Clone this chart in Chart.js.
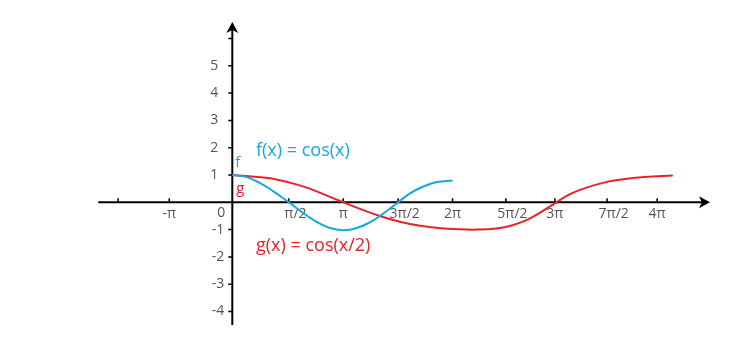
<!doctype html>
<html lang="en">
  <head>
    <meta charset="utf-8">
    <title>cos(x) and cos(x/2)</title>
    <style>
      * {
        margin: 0;
        padding: 0;
      }
      body {
        background: #fff;
      }
      .chartBox {
        width: 750px;
        height: 350px;
      }
    </style>
  </head>
  <body>
    <div class="chartBox">
      <canvas id="myChart"></canvas>
    </div>
    <script src="https://cdn.jsdelivr.net/npm/chart.js/dist/chart.umd.min.js"></script>
    <script>
    const fX = [0, 0.25, 0.5, 0.75, 1.05, 1.3, 1.55, 1.8, 2.06, 2.3, 2.55, 2.8, 3.08, 3.3, 3.55, 3.8, 4.09];
    const fY = [1, 0.93, 0.72, 0.42, 0, -0.37, -0.7, -0.93, -1.02, -0.95, -0.74, -0.42, 0, 0.33, 0.58, 0.74, 0.8];

    const gX = [0, 0.66, 1.05, 1.41, 1.7, 2.06, 2.37, 2.74, 3.11, 3.49, 3.86, 4.2, 4.55, 4.9, 5.2, 5.53, 6.02, 6.27, 6.55, 6.92, 7.29, 7.66, 8.18];
    const gY = [1, 0.89, 0.73, 0.52, 0.29, 0, -0.24, -0.5, -0.71, -0.86, -0.95, -0.99, -1.0, -0.96, -0.84, -0.59, 0, 0.3, 0.52, 0.73, 0.85, 0.93, 0.98];

    const xTickVals = [-2.12, -1.17, 1.05, 2.06, 3.08, 4.09, 5.08, 5.99, 6.96, 7.89];
    const xTickLabels = ['', '-π', 'π/2', 'π', '3π/2', '2π', '5π/2', '3π', '7π/2', '4π'];
    const yTickVals = [-4, -3, -2, -1, 1, 2, 3, 4, 5, 6];
    const yTickLabels = ['-4', '-3', '-2', '-1', '1', '2', '3', '4', '5', ''];

    const fLabel = 'f(x) = cos(x)';
    const gLabel = 'g(x) = cos(x/2)';

    const blue = '#12a9e4';
    const red = '#e8212b';
    const tickGrey = '#555';

    const toPoints = (xs, ys) => xs.map((x, i) => ({ x: x, y: ys[i] }));

    // draws the two axes with arrows, ticks and their labels
    const axesPlugin = {
      id: 'axesPlugin',
      beforeDatasetsDraw(chart) {
        const ctx = chart.ctx;
        const xs = chart.scales.x;
        const ys = chart.scales.y;
        const x0 = xs.getPixelForValue(0);
        const y0 = ys.getPixelForValue(0);
        const left = xs.getPixelForValue(-2.49);
        const right = xs.getPixelForValue(8.87);
        const top = ys.getPixelForValue(6.6);
        const bottom = ys.getPixelForValue(-4.49);

        ctx.save();
        ctx.strokeStyle = '#000';
        ctx.fillStyle = '#000';
        ctx.lineWidth = 2;
        ctx.beginPath();
        ctx.moveTo(left, y0);
        ctx.lineTo(right - 6, y0);
        ctx.moveTo(x0, bottom);
        ctx.lineTo(x0, top + 6);
        ctx.stroke();

        // arrow heads
        ctx.beginPath();
        ctx.moveTo(right, y0);
        ctx.lineTo(right - 11, y0 - 6);
        ctx.lineTo(right - 8, y0);
        ctx.lineTo(right - 11, y0 + 6);
        ctx.closePath();
        ctx.fill();
        ctx.beginPath();
        ctx.moveTo(x0, top);
        ctx.lineTo(x0 - 6, top + 11);
        ctx.lineTo(x0, top + 8);
        ctx.lineTo(x0 + 6, top + 11);
        ctx.closePath();
        ctx.fill();

        // tick marks
        ctx.lineWidth = 1.5;
        ctx.beginPath();
        xTickVals.forEach(v => {
          const px = xs.getPixelForValue(v);
          ctx.moveTo(px, y0 - 4);
          ctx.lineTo(px, y0);
        });
        yTickVals.forEach(v => {
          const py = ys.getPixelForValue(v);
          ctx.moveTo(x0 - 4, py);
          ctx.lineTo(x0, py);
        });
        ctx.stroke();

        // tick labels: the numerator part sits right under the tick
        ctx.fillStyle = tickGrey;
        ctx.font = '14px "Open Sans", sans-serif';
        ctx.textAlign = 'left';
        ctx.textBaseline = 'middle';
        xTickVals.forEach((v, i) => {
          const txt = xTickLabels[i];
          const num = txt.split('/')[0];
          const w = ctx.measureText(num).width;
          ctx.fillText(txt, xs.getPixelForValue(v) - w / 2, y0 + 12);
        });
        ctx.textAlign = 'center';
        ctx.fillText('0', x0 - 11, y0 + 11);
        yTickVals.forEach((v, i) => {
          ctx.textAlign = v < 0 ? 'right' : 'center';
          const px = v < 0 ? x0 - 8 : x0 - 18;
          ctx.fillText(yTickLabels[i], px, ys.getPixelForValue(v));
        });

        // function names
        ctx.font = '18px "Open Sans", sans-serif';
        ctx.textAlign = 'left';
        ctx.fillStyle = blue;
        ctx.fillText(fLabel, xs.getPixelForValue(0.44), ys.getPixelForValue(1.88));
        ctx.fillStyle = red;
        ctx.fillText(gLabel, xs.getPixelForValue(0.44), ys.getPixelForValue(-1.58));
        ctx.font = '15px "Open Sans", sans-serif';
        ctx.textAlign = 'center';
        ctx.fillStyle = blue;
        ctx.fillText('f', xs.getPixelForValue(0.1), ys.getPixelForValue(1.46));
        ctx.fillStyle = red;
        ctx.fillText('g', xs.getPixelForValue(0.15), ys.getPixelForValue(0.5));
        ctx.restore();
      }
    };

    const data = {
      datasets: [{
        label: 'f',
        data: toPoints(fX, fY),
        borderColor: blue,
        borderWidth: 2,
        pointRadius: 0,
        tension: 0.4,
        fill: false
      }, {
        label: 'g',
        data: toPoints(gX, gY),
        borderColor: red,
        borderWidth: 2,
        pointRadius: 0,
        tension: 0.4,
        fill: false
      }]
    };

    const config = {
      type: 'line',
      data,
      options: {
        responsive: true,
        maintainAspectRatio: false,
        animation: false,
        layout: { padding: 0 },
        scales: {
          x: { type: 'linear', display: false, min: -4.314, max: 9.614 },
          y: { type: 'linear', display: false, min: -5.41, max: 7.41 }
        },
        plugins: {
          legend: { display: false },
          tooltip: { enabled: false }
        }
      },
      plugins: [axesPlugin]
    };

    const myChart = new Chart(document.getElementById('myChart'), config);
    </script>
  </body>
</html>
